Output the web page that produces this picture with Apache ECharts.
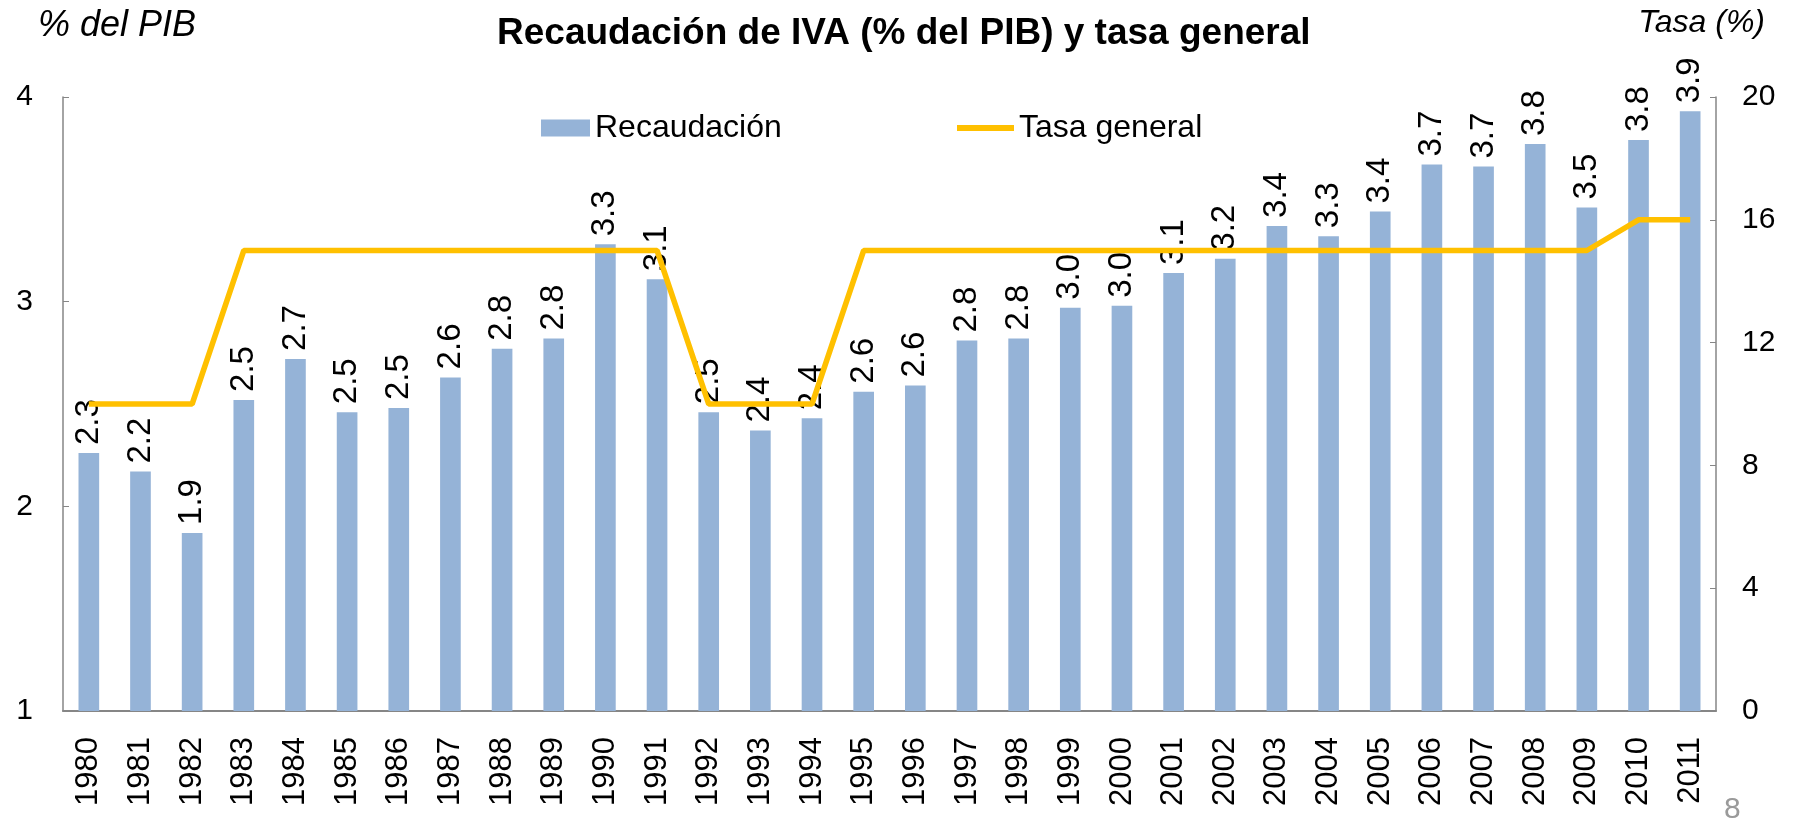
<!DOCTYPE html>
<html>
<head>
<meta charset="utf-8">
<script src="https://cdn.jsdelivr.net/npm/echarts@6/dist/echarts.min.js"></script>
<style>
  html, body { margin: 0; padding: 0; background: #fff; }
  #chart { width: 1797px; height: 822px; }
</style>
</head>
<body>
<div id="chart"></div>
<script>
var years = ['1980', '1981', '1982', '1983', '1984', '1985', '1986', '1987', '1988', '1989',
  '1990', '1991', '1992', '1993', '1994', '1995', '1996', '1997', '1998', '1999',
  '2000', '2001', '2002', '2003', '2004', '2005', '2006', '2007', '2008', '2009',
  '2010', '2011']
var recaudacion = [2.26, 2.17, 1.87, 2.52, 2.72, 2.46, 2.48, 2.63, 2.77, 2.82,
  3.28, 3.11, 2.46, 2.37, 2.43, 2.56, 2.59, 2.81, 2.82, 2.97,
  2.98, 3.14, 3.21, 3.37, 3.32, 3.44, 3.67, 3.66, 3.77, 3.46,
  3.79, 3.93]
var tasaGeneral = [10, 10, 10, 15, 15, 15, 15, 15, 15, 15,
  15, 15, 10, 10, 10, 15, 15, 15, 15, 15,
  15, 15, 15, 15, 15, 15, 15, 15, 15, 15,
  16, 16]

var font = "'Liberation Sans', Arial, sans-serif"
var axisGray = '#868686'

var chart = echarts.init(document.getElementById('chart'))
var option = {
  animation: false,
  textStyle: { fontFamily: font },
  title: {
    text: 'Recaudación de IVA (% del PIB) y tasa general',
    left: 492,
    top: 10,
    textStyle: { fontFamily: font, fontSize: 37, fontWeight: 'bold', color: '#000' }
  },
  legend: [
    {
      data: [{ name: 'Recaudación', icon: 'rect' }],
      left: 536,
      top: 107,
      itemWidth: 49,
      itemHeight: 17,
      textStyle: { fontFamily: font, fontSize: 32, color: '#000' }
    },
    {
      data: [{ name: 'Tasa general', icon: 'rect' }],
      left: 952,
      top: 107,
      itemWidth: 57,
      itemHeight: 6,
      textStyle: { fontFamily: font, fontSize: 32, color: '#000' }
    }
  ],
  graphic: [
    {
      type: 'text', left: 38, top: 8,
      style: { text: '% del PIB', font: 'italic 36px ' + font, fill: '#000' }
    },
    {
      type: 'text', right: 32, top: 7,
      style: { text: 'Tasa (%)', font: 'italic 32px ' + font, fill: '#000' }
    },
    {
      type: 'text', left: 1724, top: 795,
      style: { text: '8', font: '30px ' + font, fill: '#9a9a9a' }
    }
  ],
  grid: { left: 63, right: 81, top: 97, bottom: 111 },
  xAxis: {
    type: 'category',
    data: years,
    axisLine: { lineStyle: { color: axisGray, width: 2 } },
    axisTick: { show: false },
    axisLabel: { rotate: 90, fontSize: 31, color: '#000', margin: 26, fontFamily: font }
  },
  yAxis: [
    {
      type: 'value', min: 1, max: 4, interval: 1,
      splitLine: { show: false },
      axisLine: { show: true, lineStyle: { color: axisGray, width: 1.5 } },
      axisTick: { show: true, inside: true, length: 6, lineStyle: { color: axisGray } },
      axisLabel: { fontSize: 30, color: '#000', margin: 30, fontFamily: font }
    },
    {
      type: 'value', min: 0, max: 20, interval: 4,
      splitLine: { show: false },
      axisLine: { show: true, lineStyle: { color: axisGray, width: 1.5 } },
      axisTick: { show: true, inside: true, length: 6, lineStyle: { color: axisGray } },
      axisLabel: { fontSize: 30, color: '#000', margin: 26, fontFamily: font }
    }
  ],
  series: [
    {
      name: 'Recaudación',
      type: 'bar',
      data: recaudacion,
      barWidth: '40%',
      itemStyle: { color: '#95B3D7' },
      label: {
        show: true,
        position: 'top',
        rotate: 90,
        align: 'left',
        verticalAlign: 'middle',
        distance: 8,
        fontSize: 33,
        color: '#000',
        fontFamily: font,
        formatter: function (p) { return p.value.toFixed(1) }
      },
      z: 2
    },
    {
      name: 'Tasa general',
      type: 'line',
      yAxisIndex: 1,
      data: tasaGeneral,
      symbol: 'none',
      lineStyle: { color: '#FFC000', width: 5.5 },
      itemStyle: { color: '#FFC000' },
      z: 3
    }
  ]
}
chart.setOption(option)
window.addEventListener('resize', function () { chart.resize() })
</script>
</body>
</html>
